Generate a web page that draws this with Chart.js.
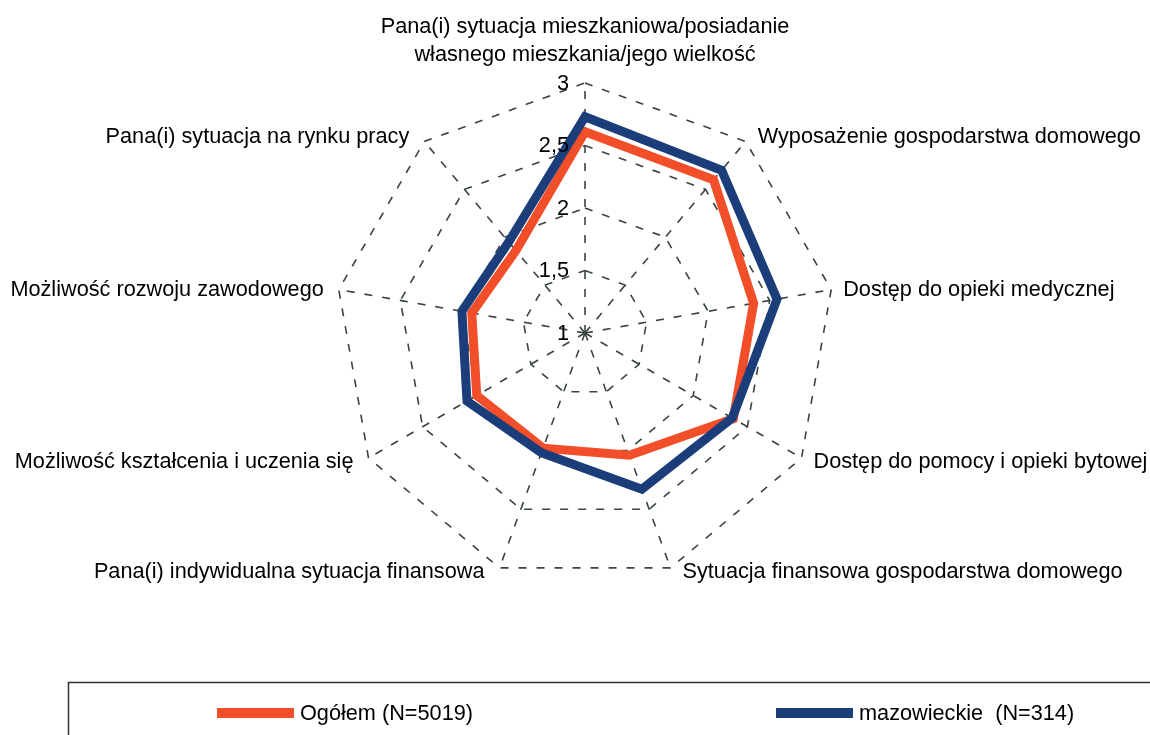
<!DOCTYPE html>
<html><head><meta charset="utf-8">
<script src="https://cdn.jsdelivr.net/npm/chart.js@4"></script>
<style>html,body{margin:0;padding:0;background:#fff;} canvas{display:block}</style>
</head><body>
<canvas id="c" width="1150" height="735"></canvas>
<script>
const categories = [
  ['Pana(i) sytuacja mieszkaniowa/posiadanie', 'własnego mieszkania/jego wielkość'],
  'Wyposażenie gospodarstwa domowego',
  'Dostęp do opieki medycznej',
  'Dostęp do pomocy i opieki bytowej',
  'Sytuacja finansowa gospodarstwa domowego',
  'Pana(i) indywidualna sytuacja finansowa',
  'Możliwość kształcenia i uczenia się',
  'Możliwość rozwoju zawodowego',
  'Pana(i) sytuacja na rynku pracy'
];
const ogolemValues = [2.61, 2.60, 2.37, 2.37, 2.04, 1.98, 2.00, 1.92, 1.86];
const mazowieckieValues = [2.73, 2.70, 2.56, 2.36, 2.33, 2.02, 2.09, 2.00, 1.95];
const seriesNames = ['Ogółem (N=5019)', 'mazowieckie  (N=314)'];
const seriesColors = ['#F24E29', '#1B3E7A'];
const tickLabels = ['1', '1,5', '2', '2,5', '3'];

const FONT = '21.7px "Liberation Sans", Arial, Helvetica, sans-serif';

const radarDecor = {
  id: 'radarDecor',
  afterDraw(chart) {
    const ctx = chart.ctx;
    const s = chart.scales.r;
    ctx.save();
    ctx.font = FONT;
    ctx.fillStyle = '#000';
    // tick labels
    ctx.textAlign = 'right';
    ctx.textBaseline = 'middle';
    s.ticks.forEach((t, i) => {
      const d = s.getDistanceFromCenterForValue(t.value);
      ctx.fillText(tickLabels[i], s.xCenter - 16, s.yCenter - d + 1);
    });
    // point labels
    chart.data.labels.forEach((lab, i) => {
      const p = s.getPointPosition(i, s.drawingArea);
      const dx = p.x - s.xCenter;
      const dy = p.y - s.yCenter;
      if (Math.abs(dx) < 1) {
        ctx.textAlign = 'center';
        const lines = Array.isArray(lab) ? lab : [lab];
        lines.forEach((ln, k) => ctx.fillText(ln, p.x, p.y - 28 * (lines.length - k)));
      } else {
        ctx.textAlign = dx > 0 ? 'left' : 'right';
        const yoff = dy < -50 ? -4 : (dy > 50 ? 4 : 0);
        ctx.fillText(lab, p.x + (dx > 0 ? 12 : -15), p.y + yoff);
      }
    });
    // legend box
    ctx.strokeStyle = '#333';
    ctx.lineWidth = 1.5;
    ctx.strokeRect(68.5, 682.5, 1120, 100);
    const items = [{x: 217}, {x: 776}];
    chart.data.datasets.forEach((ds, i) => {
      const it = items[i];
      ctx.fillStyle = ds.borderColor;
      ctx.fillRect(it.x, 708, 77, 10);
      ctx.fillStyle = '#000';
      ctx.textAlign = 'left';
      ctx.textBaseline = 'middle';
      ctx.fillText(ds.label, it.x + 83, 714);
    });
    ctx.restore();
  }
};

new Chart(document.getElementById('c'), {
  type: 'radar',
  data: {
    labels: categories,
    datasets: [
      { label: seriesNames[0], data: ogolemValues, borderColor: seriesColors[0], backgroundColor: seriesColors[0], order: 1 },
      { label: seriesNames[1], data: mazowieckieValues, borderColor: seriesColors[1], backgroundColor: seriesColors[1], order: 0 }
    ]
  },
  options: {
    responsive: false,
    animation: false,
    layout: { padding: { left: 335, right: 315, top: 83, bottom: 152 } },
    elements: {
      line: { borderWidth: 9, fill: false, tension: 0, borderJoinStyle: 'miter' },
      point: { radius: 0, hoverRadius: 0 }
    },
    plugins: { legend: { display: false }, tooltip: { enabled: false } },
    scales: {
      r: {
        min: 1, max: 3,
        ticks: { display: false, stepSize: 0.5 },
        pointLabels: { display: false },
        grid: { color: '#3a4444', lineWidth: 1.6 },
        border: { dash: [8, 10] },
        angleLines: { color: '#3a4444', lineWidth: 1.6, borderDash: [8, 10] }
      }
    }
  },
  plugins: [radarDecor]
});
</script>
</body></html>
